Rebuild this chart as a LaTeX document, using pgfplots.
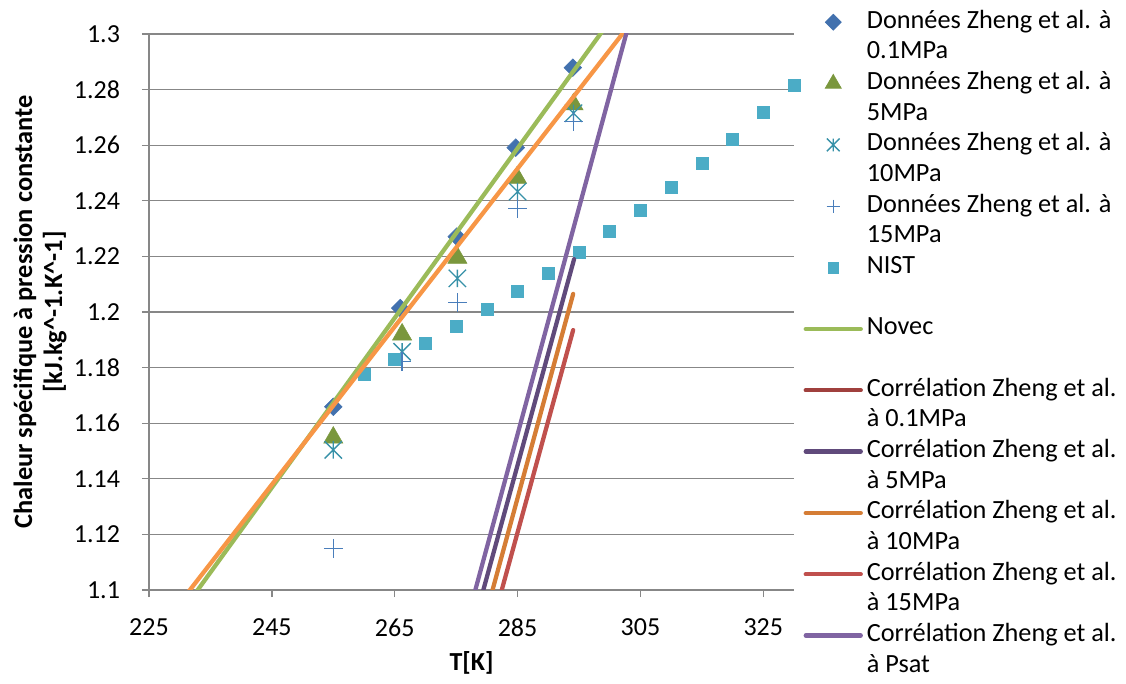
\documentclass[border=0pt]{standalone}
\usepackage{fontspec}
\setmainfont{Carlito}
\usepackage{pgfplots}
\pgfplotsset{compat=1.18}
\definecolor{cdia}{HTML}{4271AE}
\definecolor{ctri}{HTML}{7A973D}
\definecolor{cast}{HTML}{3791A8}
\definecolor{cplus}{HTML}{4A7EBB}
\definecolor{cnist}{HTML}{4BACC6}
\definecolor{cnovec}{HTML}{9BBB59}
\definecolor{corange}{HTML}{F79646}
\definecolor{cone}{HTML}{A0403D}
\definecolor{cfive}{HTML}{604A7B}
\definecolor{cten}{HTML}{D57D35}
\definecolor{cfifteen}{HTML}{C0504D}
\definecolor{cpsat}{HTML}{8064A2}
\definecolor{cgrid}{HTML}{878787}
\pgfdeclareplotmark{xstar}{%
  \pgfpathmoveto{\pgfqpoint{0pt}{\pgfplotmarksize}}\pgfpathlineto{\pgfqpoint{0pt}{-\pgfplotmarksize}}%
  \pgfpathmoveto{\pgfqpoint{\pgfplotmarksize}{\pgfplotmarksize}}\pgfpathlineto{\pgfqpoint{-\pgfplotmarksize}{-\pgfplotmarksize}}%
  \pgfpathmoveto{\pgfqpoint{-\pgfplotmarksize}{\pgfplotmarksize}}\pgfpathlineto{\pgfqpoint{\pgfplotmarksize}{-\pgfplotmarksize}}%
  \pgfusepathqstroke}
\begin{document}
\begin{tikzpicture}
\path[use as bounding box] (-111.75pt,-70.5pt) rectangle (732.75pt,442.5pt);
\begin{axis}[
  clip=false,
  scale only axis, width=483.75pt, height=417pt,
  xmin=225, xmax=330, ymin=1.1, ymax=1.3,
  axis x line*=bottom, axis y line*=left,
  axis line style={cgrid, line width=1pt},
  xtick={225,245,265,285,305,325},
  ytick={1.1,1.12,1.14,1.16,1.18,1.2,1.22,1.24,1.26,1.28,1.3},
  tick align=outside, major tick length=5.25pt,
  tick style={cgrid, line width=1pt},
  ymajorgrids, major grid style={cgrid, line width=1pt},
  /pgf/number format/assume math mode=true,
  tick label style={font=\fontsize{19.5}{23}\selectfont},
  xticklabel style={yshift=-13pt},
  yticklabel style={xshift=-13pt, /pgf/number format/fixed},
  xlabel={T[K]},
  xlabel style={at={(axis description cs:0.5,-0.1313)}, anchor=center, font=\fontsize{19.5}{23}\selectfont\bfseries},
  ylabel={Chaleur spécifique à pression constante\\{[}kJ.kg\textasciicircum-1.K\textasciicircum-1{]}},
  ylabel style={at={(axis description cs:-0.169,0.5)}, anchor=center, rotate=0, align=center, font=\fontsize{19.8}{22.5}\selectfont\bfseries},
  legend style={at={(axis description cs:1.0145,1.0492)}, anchor=north west, draw=none, fill=none, inner sep=0pt, row sep=0pt, column sep=3pt, font=\fontsize{19.7}{22}\selectfont, nodes={inner sep=0pt, text height=16pt, text depth=7pt}},
  legend cell align=left,
  legend image code/.code={\draw[mark repeat=2,mark phase=2,#1] plot coordinates {(0pt,0pt) (20.625pt,0pt) (41.25pt,0pt)};},
]
% data markers
\addplot[forget plot, only marks, color=cdia, mark=square*, mark size=4.7pt, mark options={rotate=45}] coordinates {
(255.0,1.1659) (265.9,1.2014) (275.1,1.2271) (284.7,1.2591) (294.0,1.2879)};
\addplot[forget plot, only marks, color=ctri, mark=triangle*, mark size=8.3pt] coordinates {
(255.0,1.1548) (266.2,1.1919) (275.2,1.2195) (284.9,1.2483) (294.1,1.2747)};
\addplot[forget plot, only marks, color=cast, mark=xstar, mark size=6.5pt, mark options={line width=1pt}] coordinates {
(255.0,1.1504) (266.2,1.1857) (275.2,1.2121) (285.0,1.2433) (294.1,1.2715)};
\addplot[forget plot, only marks, color=cplus, mark=+, mark size=7pt, mark options={line width=1pt}] coordinates {
(255.0,1.1150) (266.2,1.1821) (275.2,1.2034) (285.0,1.2373) (294.1,1.2685)};
\addplot[forget plot, only marks, color=cnist, mark=square*, mark size=4.5pt] coordinates {
(260,1.1777) (265,1.1830) (270,1.1887) (275,1.1947) (280,1.2010) (285,1.2073) (290,1.2141) (295,1.2215)
(300,1.2289) (305,1.2367) (310,1.2447) (315,1.2535) (320,1.2622) (325,1.2717) (330,1.2817)};
% legend
\addlegendimage{only marks, color=cdia, mark=square*, mark size=4.3pt, mark options={rotate=45}}
\addlegendentry{Données Zheng et al. à}
\addlegendimage{empty legend}\addlegendentry{0.1MPa}
\addlegendimage{only marks, color=ctri, mark=triangle*, mark size=7pt}
\addlegendentry{Données Zheng et al. à}
\addlegendimage{empty legend}\addlegendentry{5MPa}
\addlegendimage{only marks, color=cast, mark=xstar, mark size=4.8pt, mark options={line width=1pt}}
\addlegendentry{Données Zheng et al. à}
\addlegendimage{empty legend}\addlegendentry{10MPa}
\addlegendimage{only marks, color=cplus, mark=+, mark size=5pt, mark options={line width=1pt}}
\addlegendentry{Données Zheng et al. à}
\addlegendimage{empty legend}\addlegendentry{15MPa}
\addlegendimage{only marks, color=cnist, mark=square*, mark size=4pt}
\addlegendentry{NIST}
\addlegendimage{empty legend}\addlegendentry{}
\addlegendimage{color=cnovec, line width=3.2pt, line cap=round}
\addlegendentry{Novec}
\addlegendimage{empty legend}\addlegendentry{}
\addlegendimage{color=cone, line width=3.2pt, line cap=round}
\addlegendentry{Corrélation Zheng et al.}
\addlegendimage{empty legend}\addlegendentry{à 0.1MPa}
\addlegendimage{color=cfive, line width=3.2pt, line cap=round}
\addlegendentry{Corrélation Zheng et al.}
\addlegendimage{empty legend}\addlegendentry{à 5MPa}
\addlegendimage{color=cten, line width=3.2pt, line cap=round}
\addlegendentry{Corrélation Zheng et al.}
\addlegendimage{empty legend}\addlegendentry{à 10MPa}
\addlegendimage{color=cfifteen, line width=3.2pt, line cap=round}
\addlegendentry{Corrélation Zheng et al.}
\addlegendimage{empty legend}\addlegendentry{à 15MPa}
\addlegendimage{color=cpsat, line width=3.2pt, line cap=round}
\addlegendentry{Corrélation Zheng et al.}
\addlegendimage{empty legend}\addlegendentry{à Psat}
\end{axis}
% second axis: lines drawn over the markers
\begin{axis}[
  scale only axis, width=483.75pt, height=417pt,
  xmin=225, xmax=330, ymin=1.1, ymax=1.3,
  hide axis, clip=true,
]
\addplot[color=cnovec, line width=3.2pt, line cap=round] coordinates {(232.6,1.099) (298.8,1.301)};
\addplot[color=corange, line width=3.2pt, line cap=round] coordinates {(231.3,1.099) (302.4,1.301)};
\addplot[color=cfive, line width=3.2pt, line cap=round] coordinates {(279.3,1.099) (294.2,1.219)};
\addplot[color=cten, line width=3.2pt, line cap=round] coordinates {(280.8,1.099) (294.05,1.2065)};
\addplot[color=cfifteen, line width=3.2pt, line cap=round] coordinates {(282.3,1.099) (294.05,1.1935)};
\addplot[color=cpsat, line width=3.2pt, line cap=round] coordinates {(278.0,1.099) (302.8,1.301)};
\end{axis}
\end{tikzpicture}
\end{document}
